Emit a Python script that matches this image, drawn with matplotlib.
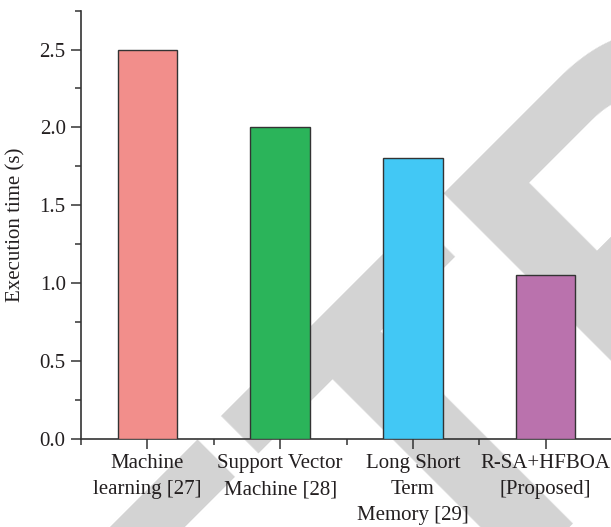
import matplotlib
matplotlib.use("Agg")
import matplotlib.pyplot as plt
from matplotlib.ticker import MultipleLocator, FixedLocator

categories = ["Machine\nlearning [27]", "Support Vector\nMachine [28]",
              "Long Short\nTerm\nMemory [29]", "R-SA+HFBOA\n[Proposed]"]
values = [2.5, 2.0, 1.8, 1.05]
colors = ["#F28E8B", "#2BB45A", "#42C8F5", "#BA72AD"]
ylabel = "Execution time (s)"

plt.rcParams['font.family'] = ['Liberation Serif', 'DejaVu Serif']
W, H = 611, 527
fig = plt.figure(figsize=(W / 100, H / 100), dpi=100)

# watermark behind everything
fig.text(-25 / W, 1 - 1090 / H, "RETRACTED", rotation=45, rotation_mode='anchor',
         ha='left', va='baseline', fontsize=340, fontweight='bold',
         family='Liberation Sans', color='#d3d3d3', zorder=0)

ax = fig.add_axes([81 / W, 1 - 438.5 / H, (612 - 81) / W, (438.5 - 10.7) / H])
ax.patch.set_visible(False)
ax.set_zorder(1)

x = range(len(values))
ax.bar(x, values, width=0.45, color=colors, edgecolor='#333333', linewidth=1.0, zorder=3)

ax.set_xlim(-0.5, 3.5)
ax.set_ylim(0, 2.75)
ax.set_xticks(list(x))
ax.set_xticklabels(categories, fontsize=15, color='#231f20', linespacing=1.52)
ax.xaxis.set_minor_locator(FixedLocator([-0.5, 0.5, 1.5, 2.5]))
ax.yaxis.set_minor_locator(MultipleLocator(0.25))
ax.set_yticks([0, 0.5, 1.0, 1.5, 2.0, 2.5])
ax.set_yticklabels(["0.0", "0.5", "1.0", "1.5", "2.0", "2.5"], fontsize=15, color='#231f20')
ax.set_ylabel(ylabel, fontsize=15, color='#231f20', labelpad=10)

for s in ['top', 'right']:
    ax.spines[s].set_visible(False)
for s in ['left', 'bottom']:
    ax.spines[s].set_color('#333333')
    ax.spines[s].set_linewidth(1.2)

ax.tick_params(axis='both', which='major', direction='out', length=7, width=1.1, color='#333333', pad=4)
ax.tick_params(axis='both', which='minor', direction='out', length=4, width=1.1, color='#333333')

fig.savefig("out.png", dpi=100)
